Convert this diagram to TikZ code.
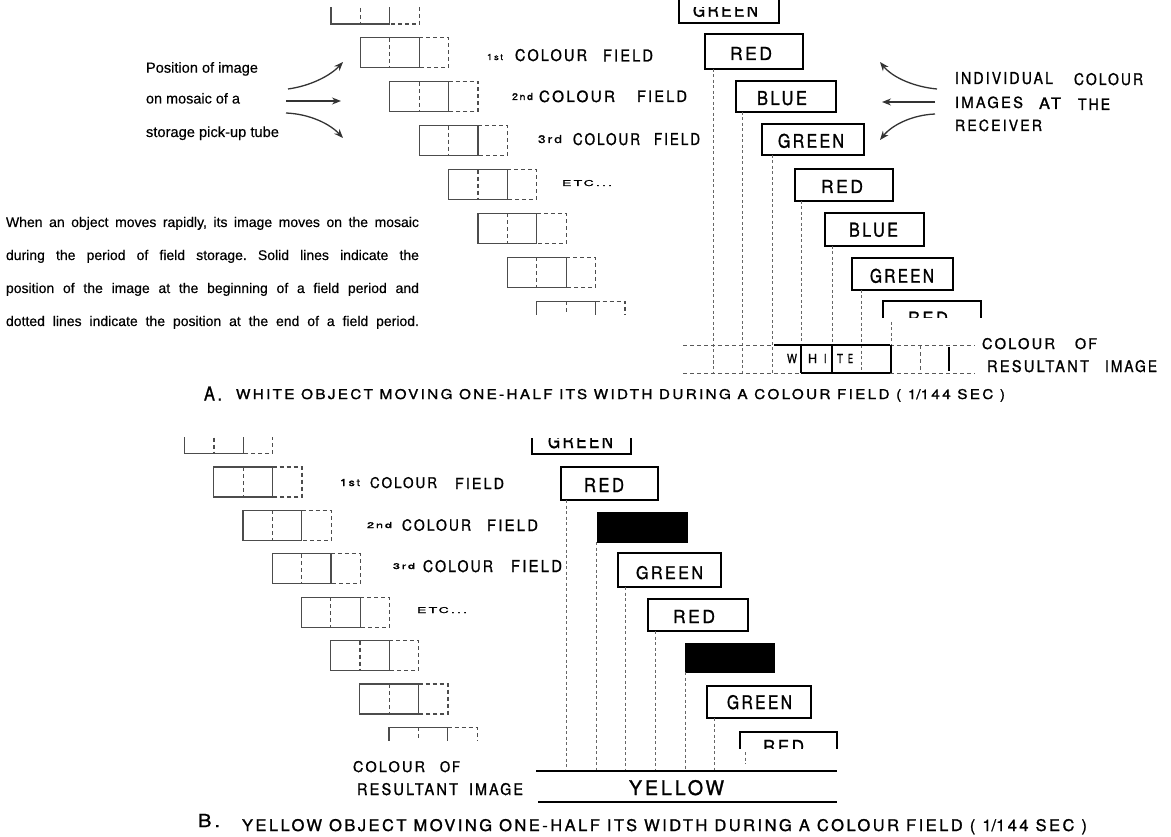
\documentclass[tikz,border=0pt]{standalone}
\usepackage{fontspec}
\setmainfont{Liberation Sans}
\newfontfamily\lab[LetterSpace=15,FakeBold=1.2]{TeX Gyre Heros}
\newfontfamily\bodyf[FakeBold=0.4]{Liberation Sans}
\usepackage{graphicx}
\usetikzlibrary{arrows.meta,fit}
\frenchspacing

\tikzset{
 mos/.style={draw=black!70, line width=1.2pt},
 mosd/.style={draw=black!70, line width=1.2pt, dash pattern=on 4pt off 3pt},
 cbox/.style={draw=black, line width=2.6pt, inner sep=0pt, outer sep=0pt},
 kbox/.style={fill=black, draw=black, line width=0.5pt, inner sep=0pt, outer sep=0pt},
 vdash/.style={draw=black!60, line width=0.9pt, dash pattern=on 3pt off 2.5pt},
 stripd/.style={draw=black!65, line width=0.9pt, dash pattern=on 4pt off 3pt},
 strips/.style={draw=black, line width=1.3pt},
 arr/.style={draw=black!80, line width=1.3pt, -{Stealth[length=9pt,width=7pt]}},
 lbl/.style={inner sep=0pt, outer sep=0pt, anchor=base west},
}

\newcommand\mosaic[2]{%
 \draw[mos] (#1,#2) rectangle ++(58.8,30);
 \draw[mosd] (#1+29.4,#2) -- ++(0,30);
 \draw[mosd] (#1+58.8,#2) -- ++(29.4,0) -- ++(0,30) -- ++(-29.4,0);
}
\newcommand\lb[6]{\node[lbl] (#1) at (#2,#3) {\resizebox{#4pt}{#5pt}{\lab #6}};}
\newcommand\lw[5]{\node[lbl] (#1) at (#2,#3) {\resizebox{#4pt}{!}{\bodyf\fontsize{13}{15}\selectfont #5}};}
\newcommand\pline[3]{\node[lbl] (#1) at (6,#2) {\bodyf\fontsize{14}{16}\selectfont\frenchspacing\makebox[413pt][s]{#3}};}

\begin{document}
\begin{tikzpicture}[x=1pt,y=-1pt]
\fill[white] (0,0) rectangle (1171,837);
\useasboundingbox (0,0) rectangle (1171,837);

% ================= PART A =================
% mosaic staircase
\begin{scope}
 \clip (0,8) rectangle (700,40);
 \mosaic{331}{-6}
\end{scope}
\foreach \k in {1,...,6} {\mosaic{331+29.4*\k}{-6+43.9*\k}}
\begin{scope}
 \clip (0,290) rectangle (700,314.5);
 \mosaic{331+29.4*7}{-6+43.9*7}
\end{scope}

% labels left
\lw{posa}{146}{72.7}{112}{Position of image}
\lw{posb}{146}{103.5}{94}{on mosaic of a}
\lw{posc}{146}{137}{133}{storage pick-up tube}
\coordinate (la1) at (288,89);  \coordinate (lb1) at (343,62);
\coordinate (la2) at (286,101); \coordinate (lb2) at (341,101);
\coordinate (la3) at (286,113); \coordinate (lb3) at (343,138);
\draw[arr] (la1) .. controls (310,86) and (330,76) .. (lb1);
\draw[arr] (la2) -- (lb2);
\draw[arr] (la3) .. controls (310,114) and (330,124) .. (lb3);

% field labels
\lb{sta}{487}{60}{16}{6}{1st}
\lb{c1a}{515}{61}{72}{12}{COLOUR}
\lb{f1a}{603}{61.5}{50}{12}{FIELD}
\lb{nda}{512}{100}{21}{7}{2nd}
\lb{c2a}{539}{102}{76}{11.5}{COLOUR}
\lb{f2a}{637}{102}{50}{11.5}{FIELD}
\lb{rda}{538}{143}{24}{8}{3rd}
\lb{c3a}{573}{145}{67}{12}{COLOUR}
\lb{f3a}{654}{145}{46}{12}{FIELD}
\lb{etca}{562}{186}{50}{6}{ETC...}

% paragraph
\pline{p1}{227}{When an object moves rapidly, its image moves on the mosaic}
\pline{p2}{260}{during the period of field storage. Solid lines indicate the}
\pline{p3}{293}{position of the image at the beginning of a field period and}
\pline{p4}{326}{dotted lines indicate the position at the end of a field period.}

% colour boxes
\begin{scope}
 \clip (600,0) rectangle (800,40);
 \node[cbox, fit={(679,-10) (779,23)}] (ga0) {};
\end{scope}
\begin{scope}
 \clip (600,8) rectangle (800,40);
 \lb{ga0t}{693}{16.7}{65}{13}{GREEN}
\end{scope}
\node[cbox, fit={(705,34) (803,69)}] (ra1) {};
\node[cbox, fit={(736,81) (836,112)}] (ba2) {};
\node[cbox, fit={(762,124) (864,155)}] (ga3) {};
\node[cbox, fit={(795,169) (893,201)}] (ra4) {};
\node[cbox, fit={(825,213) (924,246)}] (ba5) {};
\node[cbox, fit={(852,258) (953,290)}] (ga6) {};
\begin{scope}
 \clip (860,290) rectangle (1000,318);
 \node[cbox, fit={(883,301) (981,334)}] (ra7) {};
 \lb{ra7t}{908}{324.7}{40}{13}{RED}
\end{scope}
\lb{ra1t}{730}{60}{42}{13}{RED}
\lb{ba2t}{757}{105}{50}{14}{BLUE}
\lb{ga3t}{778}{147.7}{66}{14}{GREEN}
\lb{ra4t}{821}{193}{42}{13}{RED}
\lb{ba5t}{849}{236.7}{49}{14}{BLUE}
\lb{ga6t}{870}{282.7}{64}{14}{GREEN}

% receiver labels and arrows
\lb{ind}{955}{84}{98}{12}{INDIVIDUAL}
\lb{icol}{1074}{85}{69}{12}{COLOUR}
\lb{img}{955}{108}{68}{11.5}{IMAGES}
\lb{iat}{1039}{109}{22}{11.5}{AT}
\lb{ithe}{1078}{110}{32}{11.5}{THE}
\lb{rec}{955}{131}{87}{11.5}{RECEIVER}
\coordinate (ra1s) at (937,89);  \coordinate (ra1e) at (880,62);
\coordinate (ra2s) at (935,102); \coordinate (ra2e) at (882,102);
\coordinate (ra3s) at (935,114); \coordinate (ra3e) at (880,140);
\draw[arr] (ra1s) .. controls (915,87) and (893,78) .. (ra1e);
\draw[arr] (ra2s) -- (ra2e);
\draw[arr] (ra3s) .. controls (912,115) and (892,125) .. (ra3e);

% dashed verticals
\draw[vdash] (713,69) -- (713,373);
\draw[vdash] (742,112) -- (742,373);
\draw[vdash] (772,155) -- (772,373);
\draw[vdash] (801,201) -- (801,345);
\draw[vdash] (832,246) -- (832,345);
\draw[vdash] (861,290) -- (861,373);
\draw[vdash] (891,322) -- (891,345);

% resultant strip
\draw[stripd] (683,345) -- (774,345);
\draw[strips] (774,345) -- (890,345);
\draw[stripd] (890,345) -- (975,345);
\draw[stripd] (683,373) -- (801,373);
\draw[strips] (801,373) -- (890,373);
\draw[stripd] (890,373) -- (975,373);
\draw[strips] (801,345) -- (801,373);
\draw[strips] (832,345) -- (832,373);
\draw[strips] (891,345) -- (891,373);
\draw[stripd] (920,345) -- (920,373);
\draw[strips] (949,347) -- (949,371);
\lb{w1}{787}{363}{10}{9}{W}
\lb{w2}{808}{363}{9}{9}{H}
\lb{w3}{824}{363}{2.5}{9}{I}
\lb{w4}{837}{363}{6}{9}{T}
\lb{w5}{848}{363}{5}{9}{E}
\lb{rcoa}{982}{349}{73}{11}{COLOUR}
\lb{rofa}{1075}{349}{22}{11}{OF}
\lb{rresa}{987}{372}{102}{12}{RESULTANT}
\lb{rima}{1105}{372}{52}{12}{IMAGE}

% caption A
\lb{capa1}{204}{400.5}{18}{14}{A.}
\lb{capa}{236}{399}{769}{10}{WHITE OBJECT MOVING ONE-HALF ITS WIDTH DURING A COLOUR FIELD \smash{(} 1\smash{/}144 SEC \smash{)}}

% ================= PART B =================
\begin{scope}
 \clip (0,437) rectangle (400,460);
 \mosaic{184.5}{423.6}
\end{scope}
\foreach \k in {1,...,6} {\mosaic{184.5+29.2*\k}{423.6+43.4*\k}}
\begin{scope}
 \clip (0,715) rectangle (500,740.5);
 \mosaic{184.5+29.2*7}{423.6+43.4*7}
\end{scope}

\lb{stb}{340}{486}{20}{7}{1st}
\lb{c1b}{370}{488}{67}{11}{COLOUR}
\lb{f1b}{455}{489}{49}{11}{FIELD}
\lb{ndb}{367}{528}{25}{6}{2nd}
\lb{c2b}{402}{530.7}{69}{11.5}{COLOUR}
\lb{f2b}{487}{531}{51}{11.5}{FIELD}
\lb{rdb}{393}{569}{22}{6}{3rd}
\lb{c3b}{423}{572}{70}{12}{COLOUR}
\lb{f3b}{511}{572}{51}{12}{FIELD}
\lb{etcb}{417}{613}{50}{6}{ETC...}
\lb{cob}{353}{772}{72}{11}{COLOUR}
\lb{ofb}{440}{772}{20}{11}{OF}
\lb{resb}{357}{795}{101}{12}{RESULTANT}
\lb{imb}{469}{795}{54}{12}{IMAGE}

% colour boxes B
\begin{scope}
 \clip (500,438) rectangle (700,470);
 \node[cbox, fit={(532,421) (631,454)}] (gb0) {};
 \lb{gb0t}{548}{448}{65}{14}{GREEN}
\end{scope}
\node[cbox, fit={(561,467) (658,500)}] (rb1) {};
\node[kbox, fit={(597,512) (687,542)}] (kb2) {};
\node[cbox, fit={(618,553) (721,587)}] (gb3) {};
\node[cbox, fit={(648,599) (748,631)}] (rb4) {};
\node[kbox, fit={(685,643) (774,672)}] (kb5) {};
\node[cbox, fit={(707,686) (811,718)}] (gb6) {};
\begin{scope}
 \clip (720,720) rectangle (860,748);
 \node[cbox, fit={(740,732) (837,765)}] (rb7) {};
 \lb{rb7t}{763}{753}{41}{13}{RED}
\end{scope}
\lb{rb1t}{584}{492}{40}{14}{RED}
\lb{gb3t}{636}{579}{67}{13}{GREEN}
\lb{rb4t}{673}{623}{42}{13}{RED}
\lb{gb6t}{727}{709}{65}{14}{GREEN}

% dashed verticals B
\draw[vdash] (566,500) -- (566,771);
\draw[vdash] (596,542) -- (596,771);
\draw[vdash] (625,587) -- (625,771);
\draw[vdash] (655,631) -- (655,771);
\draw[vdash] (685,672) -- (685,771);
\draw[vdash] (714,718) -- (714,771);
\draw[vdash] (745,752) -- (745,764);

% yellow strip
\draw[line width=2.2pt] (536,771) -- (837,771);
\draw[line width=2.2pt] (538,802) -- (837,802);
\lb{yel}{629}{795}{95}{15}{YELLOW}

% caption B
\lb{capb1}{198}{827}{22}{13}{B.}
\lb{capb}{242}{831}{845}{12}{YELLOW OBJECT MOVING ONE-HALF ITS WIDTH DURING A COLOUR FIELD \smash{(} 1\smash{/}144 SEC \smash{)}}
\end{tikzpicture}
\end{document}
